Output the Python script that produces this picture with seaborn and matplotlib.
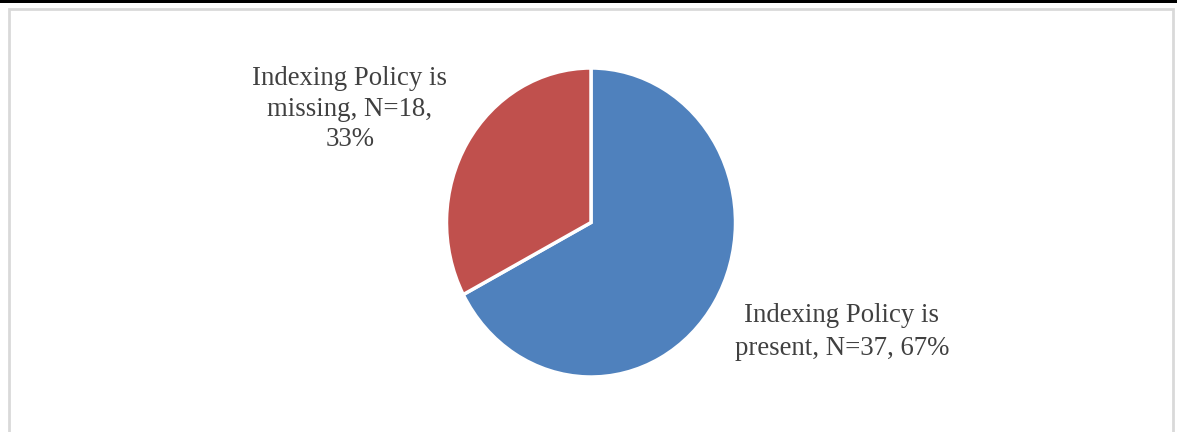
import matplotlib
matplotlib.use("Agg")
import matplotlib.pyplot as plt
import seaborn as sns
from matplotlib.patches import Rectangle

categories = ["Indexing Policy is present", "Indexing Policy is missing"]
counts = [37, 18]
percents = [67, 33]
label_texts = ["Indexing Policy is\npresent, N=37, 67%", "Indexing Policy is\nmissing, N=18,\n33%"]

sns.set_theme(style="white")
plt.rcParams['font.family'] = ['Liberation Serif', 'DejaVu Serif']

W, H = 1177, 432
fig = plt.figure(figsize=(W / 100, H / 100), dpi=100)
fig.patch.set_facecolor("white")

# top black band and light gray frame
fig.patches.append(Rectangle((0, 1 - 3 / H), 1, 3 / H, transform=fig.transFigure,
                             facecolor="black", edgecolor="none", zorder=5))
fig.patches.append(Rectangle((9 / W, -0.1), (1173 - 9) / W, 1 - 9 / H + 0.1,
                             transform=fig.transFigure, facecolor="none",
                             edgecolor="#D9D9D9", linewidth=2, zorder=5))

cx, cy, rx, ry = 591, 222.5, 144.5, 154.5
ax = fig.add_axes([(cx - rx) / W, (H - cy - ry) / H, 2 * rx / W, 2 * ry / H])
palette = ["#4F81BD", "#C0504D"]
ax.pie(counts, colors=palette, startangle=90, counterclock=False, radius=1,
       wedgeprops=dict(edgecolor="white", linewidth=2.5))
ax.set_aspect("auto")
ax.set_xlim(-1, 1)
ax.set_ylim(-1, 1)
ax.axis("off")

fig.text(842 / W, 1 - 332 / H, label_texts[0], ha="center", va="center",
         fontsize=19.3, color="#404040", linespacing=1.42)
fig.text(350 / W, 1 - 109 / H, label_texts[1], ha="center", va="center",
         fontsize=19.3, color="#404040", linespacing=1.3)

fig.savefig("out.png", dpi=100)
